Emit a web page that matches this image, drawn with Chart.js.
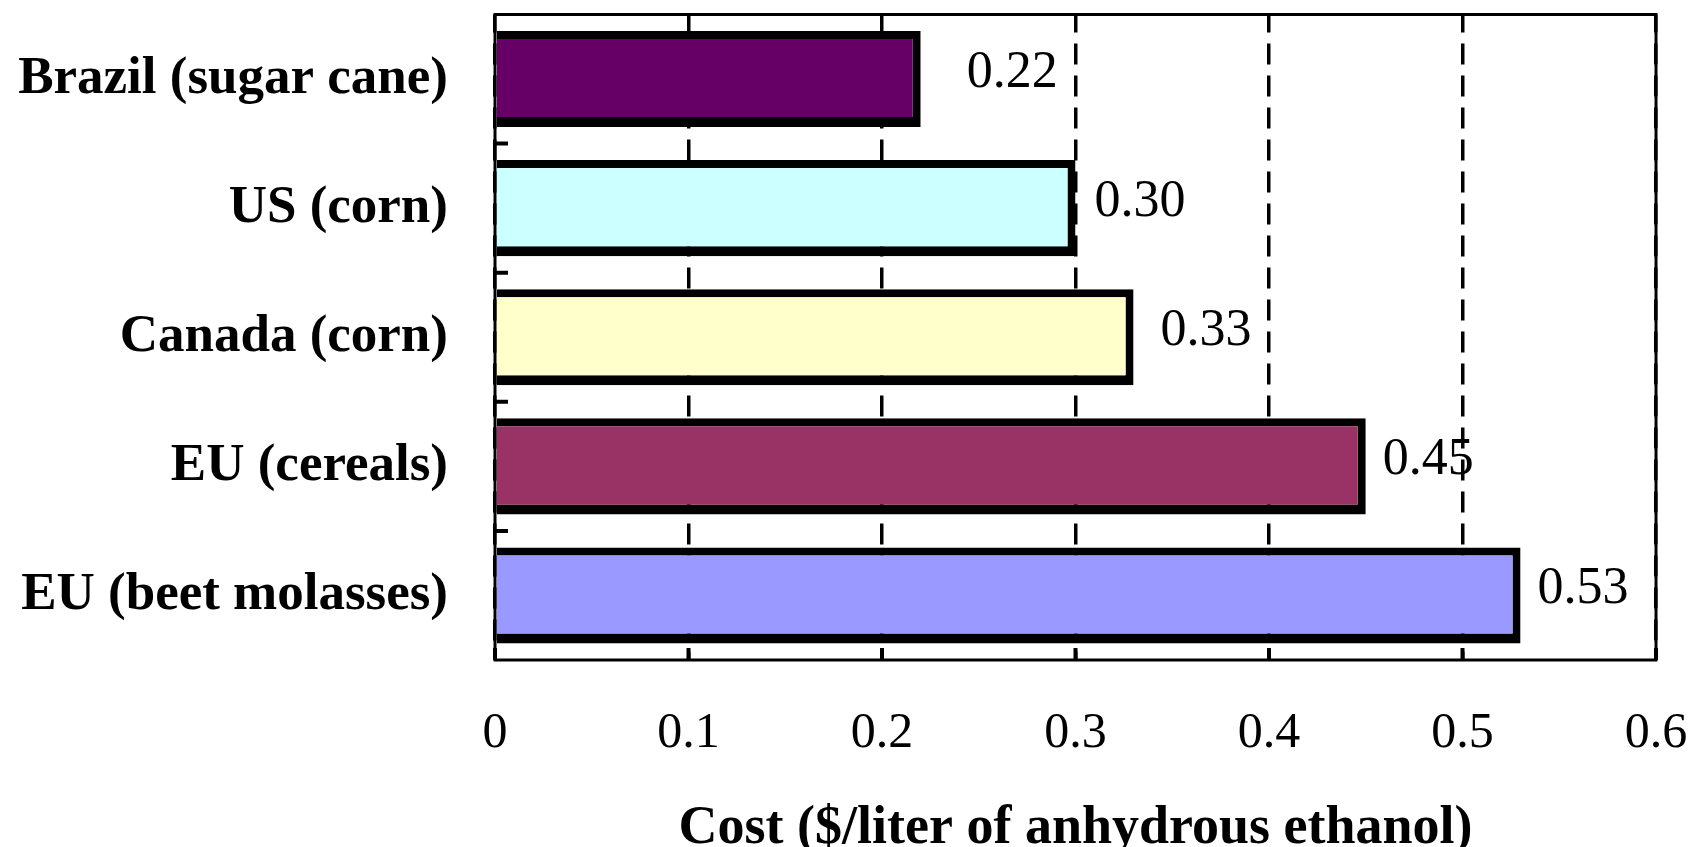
<!DOCTYPE html>
<html>
<head>
<meta charset="utf-8">
<script src="https://cdn.jsdelivr.net/npm/chart.js@4.4.1/dist/chart.umd.min.js"></script>
<style>
  html, body { margin: 0; padding: 0; background: #fff; overflow: hidden; }
  #wrap { width: 1694px; height: 847px; }
</style>
</head>
<body>
<div id="wrap"><canvas id="chart" width="1694" height="847"></canvas></div>
<script>
const categories = ['Brazil (sugar cane)', 'US (corn)', 'Canada (corn)', 'EU (cereals)', 'EU (beet molasses)'];
const costs = [0.22, 0.30, 0.33, 0.45, 0.53];
const barColors = ['#660066', '#CCFFFF', '#FFFFCC', '#993366', '#9999FF'];
const xTickLabels = ['0', '0.1', '0.2', '0.3', '0.4', '0.5', '0.6'];
const xAxisTitle = 'Cost ($/liter of anhydrous ethanol)';

// space between bar end and its value label (the original placed them unevenly)
const labelGaps = [46, 19, 27, 17, 17];

const serif = '"Liberation Serif", "Times New Roman", serif';

// plot frame, small inner tick marks and the value labels
const framePlugin = {
    id: 'frame',
    afterDatasetsDraw(chart) {
        const ctx = chart.ctx;
        const a = chart.chartArea;
        const x = chart.scales.x;
        const y = chart.scales.y;
        ctx.save();
        ctx.strokeStyle = '#000';
        ctx.lineWidth = 4;
        ctx.beginPath();
        for (let i = 0; i < categories.length - 1; i++) {
            const yy = (y.getPixelForValue(i) + y.getPixelForValue(i + 1)) / 2;
            ctx.moveTo(a.left, yy);
            ctx.lineTo(a.left + 13, yy);
        }
        x.ticks.forEach((t, i) => {
            const xx = x.getPixelForTick(i);
            ctx.moveTo(xx, a.bottom);
            ctx.lineTo(xx, a.bottom - 12);
        });
        ctx.stroke();

        ctx.lineWidth = 3;
        ctx.strokeRect(a.left, a.top, a.right - a.left, a.bottom - a.top);

        ctx.fillStyle = '#000';
        ctx.font = '52px ' + serif;
        ctx.textBaseline = 'middle';
        ctx.textAlign = 'left';
        chart.getDatasetMeta(0).data.forEach((bar, i) => {
            ctx.fillText(costs[i].toFixed(2), bar.x + labelGaps[i], bar.y - 6);
        });
        ctx.restore();
    }
};

new Chart(document.getElementById('chart'), {
    type: 'bar',
    data: {
        labels: categories,
        datasets: [{
            data: costs,
            backgroundColor: barColors,
            borderColor: '#000',
            borderWidth: { top: 8, right: 8, bottom: 10, left: 0 },
            borderSkipped: false,
            barPercentage: 0.744,
            categoryPercentage: 1
        }]
    },
    options: {
        indexAxis: 'y',
        responsive: false,
        animation: false,
        devicePixelRatio: 1,
        layout: {
            padding: { left: 0, top: 14.5, right: 38, bottom: 0 }
        },
        plugins: {
            legend: { display: false },
            tooltip: { enabled: false }
        },
        scales: {
            x: {
                min: 0,
                max: 0.6,
                ticks: {
                    stepSize: 0.1,
                    padding: 44,
                    maxRotation: 0,
                    autoSkip: false,
                    color: '#000',
                    font: { family: serif, size: 50 },
                    callback: (v, i) => xTickLabels[i]
                },
                grid: {
                    color: '#000',
                    lineWidth: 3.5,
                    drawTicks: false
                },
                border: {
                    display: false,
                    dash: [21, 11],
                    dashOffset: 3
                },
                title: {
                    display: true,
                    text: xAxisTitle,
                    color: '#000',
                    font: { family: serif, size: 54, weight: 'bold', lineHeight: 0.68 },
                    padding: 0
                },
                afterFit: s => {
                    s.height = 847 - 660;
                    s.paddingLeft = 0;
                    s.paddingRight = 0;
                }
            },
            y: {
                ticks: {
                    padding: 47,
                    color: '#000',
                    font: { family: serif, size: 53, weight: 'bold' }
                },
                grid: { display: false, drawTicks: false },
                border: { display: false },
                afterFit: s => {
                    s.width = 495;
                    s.paddingTop = 0;
                    s.paddingBottom = 0;
                }
            }
        }
    },
    plugins: [framePlugin]
});
</script>
</body>
</html>
